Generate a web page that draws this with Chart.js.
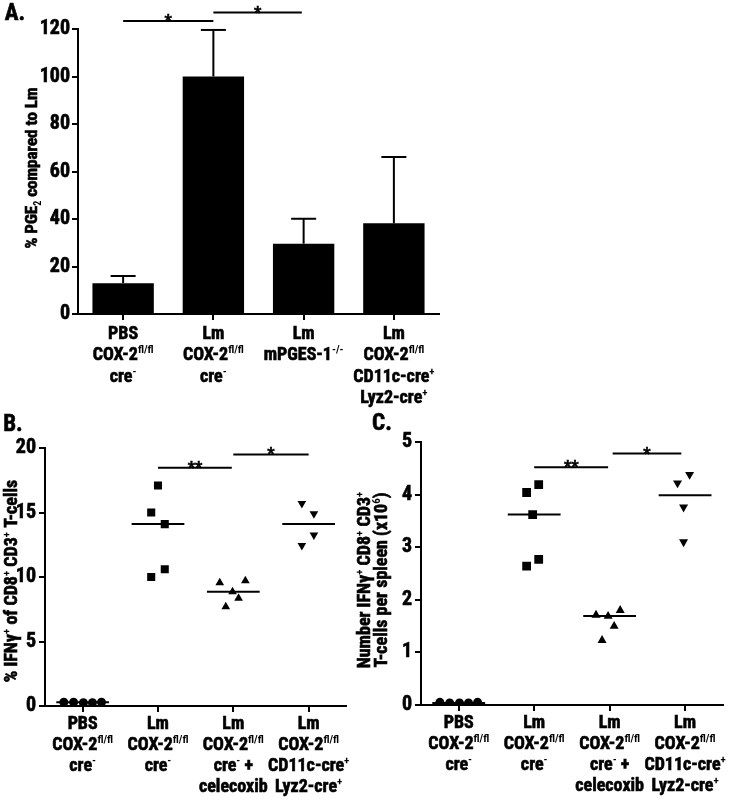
<!DOCTYPE html>
<html>
<head>
<meta charset="utf-8">
<script src="https://cdn.jsdelivr.net/npm/chart.js@4.4.1/dist/chart.umd.min.js"></script>
<style>
  html, body { margin: 0; padding: 0; background: #fff; }
  body { width: 729px; height: 799px; position: relative; overflow: hidden; }
  canvas { position: absolute; }
</style>
</head>
<body>
<canvas id="chartA" width="460" height="420" style="left:0;top:0"></canvas>
<canvas id="chartB" width="352" height="394" style="left:0;top:405px"></canvas>
<canvas id="chartC" width="377" height="394" style="left:352px;top:405px"></canvas>
<script>
// panel A - PGE2 bars
const groupsA = [
  ['PBS', 'COX-2^{fl/fl}', 'cre^{-}'],
  ['Lm', 'COX-2^{fl/fl}', 'cre^{-}'],
  ['Lm', 'mPGES-1^{-/-}'],
  ['Lm', 'COX-2^{fl/fl}', 'CD11c-cre^{+}', 'Lyz2-cre^{+}']
];
const pgeMean = [13, 100, 29.6, 38.2];
const pgeSem = [3, 19.6, 10.5, 27.9];
const sigA = [[0, 1, 123.4, '*'], [1, 1.98, 126.9, '*']];

// panels B and C - same groups
const groupsBC = [
  ['PBS', 'COX-2^{fl/fl}', 'cre^{-}'],
  ['Lm', 'COX-2^{fl/fl}', 'cre^{-}'],
  ['Lm', 'COX-2^{fl/fl}', 'cre^{-} +', 'celecoxib'],
  ['Lm', 'COX-2^{fl/fl}', 'CD11c-cre^{+}', 'Lyz2-cre^{+}']
];

// B: % IFNg+ of CD8+ CD3+
const ifnPbs = [0.3, 0.3, 0.25, 0.25, 0.3];
const ifnLm = [17.1, 15.0, 14.1, 10.0, 10.6];
const ifnCele = [9.55, 9.7, 8.85, 8.35, 7.7];
const ifnCre = [15.7, 14.9, 13.25, 12.45];
const ifnMedian = [0.3, 14.1, 8.85, 14.1];
const sigB = [[1, 1.98, 18.47, '**'], [2, 3, 19.5, '*']];

// C: number IFNg+ CD8+ CD3+ per spleen (x10^6)
const numPbs = [0.05, 0.04, 0.04, 0.04, 0.05];
const numLm = [4.04, 4.19, 3.62, 2.64, 2.77];
const numCele = [1.71, 1.69, 1.80, 1.50, 1.23];
const numCre = [4.22, 4.38, 3.76, 3.10];
const numMedian = [0.04, 3.62, 1.69, 3.99];
const sigC = [[1, 1.98, 4.52, '**'], [2.04, 2.95, 4.78, '*']];

// horizontal spread of the dots inside each group
const jitterB = [
  [-0.25, -0.12, 0.01, 0.13, 0.25],
  [0, -0.09, 0.09, -0.09, 0.09],
  [-0.18, 0.16, -0.01, 0.07, -0.10],
  [-0.09, 0.07, 0.07, -0.09]
];
const jitterC = [
  [-0.25, -0.12, 0.01, 0.13, 0.25],
  [-0.1, 0.06, -0.02, -0.1, 0.06],
  [-0.18, -0.02, 0.14, 0.06, -0.10],
  [-0.1, 0.06, -0.02, -0.02]
];

const FONT = "'Roboto Condensed', 'Liberation Sans', sans-serif";
const HEAVY = 0.6; // extra stroke, the original type is very heavy

function segs(str) {
  const out = [];
  const re = /([\^_])\{([^}]*)\}/g;
  let last = 0, m;
  while ((m = re.exec(str))) {
    if (m.index > last) out.push({ t: str.slice(last, m.index), k: '' });
    out.push({ t: m[2], k: m[1] });
    last = re.lastIndex;
  }
  if (last < str.length) out.push({ t: str.slice(last), k: '' });
  return out;
}

// centred text with ^{sup} and _{sub}; y = baseline
function drawRich(ctx, str, x, y, size) {
  const parts = segs(str);
  const fontFor = k => 'bold ' + (k ? Math.round(size * 0.6) : size) + 'px ' + FONT;
  let w = 0;
  parts.forEach(p => { ctx.font = fontFor(p.k); p.w = ctx.measureText(p.t).width; w += p.w; });
  let cx = x - w / 2;
  ctx.textAlign = 'left';
  ctx.textBaseline = 'alphabetic';
  ctx.lineWidth = HEAVY;
  parts.forEach(p => {
    ctx.font = fontFor(p.k);
    const dy = p.k === '^' ? -size * 0.38 : p.k === '_' ? size * 0.22 : 0;
    ctx.fillText(p.t, cx, y + dy);
    if (!p.k) ctx.strokeText(p.t, cx, y + dy);
    cx += p.w;
  });
}

const decor = {
  id: 'decor',
  afterDraw(chart, args, o) {
    const ctx = chart.ctx, xs = chart.scales.x, ys = chart.scales.y;
    ctx.save();
    ctx.fillStyle = '#000';
    ctx.strokeStyle = '#000';
    const seg = (x1, y1, x2, y2) => { ctx.lineWidth = 2; ctx.beginPath(); ctx.moveTo(x1, y1); ctx.lineTo(x2, y2); ctx.stroke(); };

    // error bars (upper only, the lower one is hidden in the bar)
    if (o.mean) {
      o.mean.forEach((m, i) => {
        const x = xs.getPixelForValue(i);
        const y0 = ys.getPixelForValue(m);
        const y1 = ys.getPixelForValue(m + o.sem[i]);
        seg(x, y0, x, y1);
        seg(x - 12.5, y1, x + 12.5, y1);
      });
    }

    // significance bars
    (o.sig || []).forEach(s => {
      const x1 = xs.getPixelForValue(s[0]), x2 = xs.getPixelForValue(s[1]);
      const y = ys.getPixelForValue(s[2]);
      seg(x1, y, x2, y);
      drawRich(ctx, s[3], (x1 + x2) / 2, y + 5, 16);
    });

    // group labels under the axis
    const base = chart.chartArea.bottom;
    o.groups.forEach((lines, i) => {
      const x = xs.getPixelForValue(i);
      lines.forEach((ln, k) => {
        drawRich(ctx, ln, x, base + o.row0 + k * o.rowH + 6.5, 18);
      });
    });

    // axis title
    ctx.save();
    ctx.translate(o.titleX, o.titleY);
    ctx.rotate(-Math.PI / 2);
    o.title.forEach((t, k) => drawRich(ctx, t, 0, 6 + k * o.titleGap, o.titleSize));
    ctx.restore();

    // panel letter
    drawRich(ctx, o.letter[0], o.letter[1] + 12, o.letter[2], 23);
    ctx.restore();
  }
};

const tickOpts = {
  color: '#000', font: { family: FONT, size: 20, weight: 'bold' }, padding: 2,
  textStrokeColor: '#000', textStrokeWidth: HEAVY
};
const axisGrid = { drawOnChartArea: false, tickLength: 6, color: '#000', lineWidth: 2 };
const axisBorder = { color: '#000', width: 2 };

new Chart(document.getElementById('chartA'), {
  type: 'bar',
  data: {
    labels: groupsA.map(g => g.join(' ')),
    datasets: [{
      data: pgeMean,
      backgroundColor: '#000',
      borderWidth: 0,
      categoryPercentage: 1,
      barPercentage: 0.68
    }]
  },
  options: {
    responsive: false,
    animation: false,
    layout: { padding: { top: 29, right: 21, left: 0, bottom: 0 } },
    plugins: {
      legend: { display: false },
      tooltip: { enabled: false },
      decor: {
        mean: pgeMean, sem: pgeSem, sig: sigA, groups: groupsA,
        row0: 18, rowH: 21.5,
        title: ['% PGE_{2} compared to Lm'], titleX: 31, titleY: 168, titleGap: 0, titleSize: 17,
        letter: ['A.', 3, 20]
      }
    },
    scales: {
      x: {
        offset: true,
        grid: Object.assign({}, axisGrid, { offset: false }),
        border: axisBorder,
        ticks: { display: false },
        afterFit: s => { s.height = 106; }
      },
      y: {
        min: 0, max: 120,
        ticks: Object.assign({ stepSize: 20 }, tickOpts),
        grid: axisGrid,
        border: axisBorder,
        afterFit: s => { s.width = 78; }
      }
    }
  },
  plugins: [decor]
});

function dots(vals, jit, g) {
  return vals.map((v, i) => ({ x: g + jit[i], y: v }));
}

function medianSets(med) {
  return med.map((m, g) => ({
    type: 'line',
    data: [{ x: g - 0.35, y: m }, { x: g + 0.35, y: m }],
    borderColor: '#000',
    borderWidth: 2,
    pointRadius: 0
  }));
}

function scatterChart(id, groupsVals, jit, med, yMax, yStep, sizes, padTop, padRight, yWidth, xHeight, deco) {
  const styles = [
    { pointStyle: 'circle', r: sizes[0], rot: 0 },
    { pointStyle: 'rect', r: sizes[1], rot: 0 },
    { pointStyle: 'triangle', r: sizes[2], rot: 0 },
    { pointStyle: 'triangle', r: sizes[2], rot: 180 }
  ];
  const sets = groupsVals.map((vals, g) => ({
    type: 'scatter',
    data: dots(vals, jit[g], g),
    pointStyle: styles[g].pointStyle,
    pointRadius: styles[g].r,
    pointRotation: styles[g].rot,
    backgroundColor: '#000',
    borderColor: '#000',
    borderWidth: 0
  }));
  return new Chart(document.getElementById(id), {
    type: 'scatter',
    data: { datasets: medianSets(med).concat(sets) },
    options: {
      responsive: false,
      animation: false,
      layout: { padding: { top: padTop, right: padRight, left: 0, bottom: 0 } },
      plugins: { legend: { display: false }, tooltip: { enabled: false }, decor: deco },
      scales: {
        x: {
          type: 'linear', min: -0.5, max: 3.5,
          afterBuildTicks: s => { s.ticks = [0, 1, 2, 3].map(v => ({ value: v })); },
          grid: axisGrid,
          border: axisBorder,
          ticks: { display: false },
          afterFit: s => { s.height = xHeight; }
        },
        y: {
          min: 0, max: yMax,
          ticks: Object.assign({ stepSize: yStep }, tickOpts, { padding: 3 }),
          grid: axisGrid,
          border: axisBorder,
          afterFit: s => { s.width = yWidth; }
        }
      }
    },
    plugins: [decor]
  });
}

scatterChart('chartB', [ifnPbs, ifnLm, ifnCele, ifnCre], jitterB, ifnMedian, 20, 5,
  [4.5, 5.7, 5], 43, 0, 45, 93, {
    sig: sigB, groups: groupsBC, row0: 16, rowH: 21,
    title: ['% IFNγ^{+} of CD8^{+} CD3^{+} T-cells'], titleX: 11, titleY: 176, titleGap: 0, titleSize: 18,
    letter: ['B.', 1, 26]
  });

scatterChart('chartC', [numPbs, numLm, numCele, numCre], jitterC, numMedian, 5, 1,
  [4.5, 6.2, 5.2], 37, 2, 69, 94, {
    sig: sigC, groups: groupsBC, row0: 16, rowH: 21,
    title: ['Number IFNγ^{+} CD8^{+} CD3^{+}', 'T-cells per spleen (x10^{6})'], titleX: 12, titleY: 175, titleGap: 17, titleSize: 18,
    letter: ['C.', 18, 25]
  });
</script>
</body>
</html>
